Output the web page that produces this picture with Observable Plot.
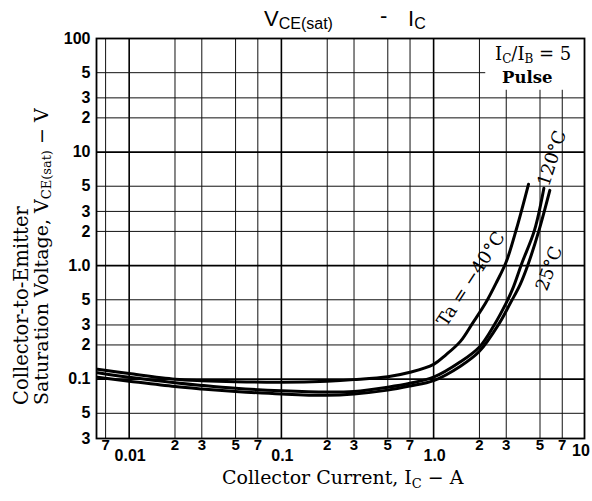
<!DOCTYPE html>
<html><head><meta charset="utf-8">
<script src="https://cdn.jsdelivr.net/npm/d3@7"></script>
<script src="https://cdn.jsdelivr.net/npm/@observablehq/plot@0.6"></script>
<style>body{margin:0;background:#fff} svg{display:block}</style>
</head><body><div id="chart"></div>
<script>
// ---- Data ----
const icM40 = [0.0062, 0.01, 0.02, 0.03, 0.05, 0.1, 0.2, 0.3, 0.5, 0.7, 1.0, 1.2, 1.5, 1.8, 2.2, 2.6, 3.0, 3.5, 4.2];
const vM40  = [0.122, 0.112, 0.100, 0.097, 0.095, 0.094, 0.096, 0.099, 0.105, 0.115, 0.135, 0.163, 0.215, 0.31, 0.47, 0.72, 1.08, 2.1, 5.2];

const ic120 = [0.0062, 0.01, 0.02, 0.03, 0.05, 0.1, 0.2, 0.3, 0.5, 0.7, 1.0, 1.5, 2.0, 2.5, 3.0, 3.3, 3.8, 4.6, 5.3];
const v120  = [0.114, 0.104, 0.093, 0.088, 0.083, 0.079, 0.077, 0.078, 0.085, 0.092, 0.104, 0.142, 0.192, 0.30, 0.47, 0.62, 1.05, 2.05, 4.8];

const ic25 = [0.0062, 0.01, 0.02, 0.03, 0.05, 0.1, 0.2, 0.3, 0.5, 0.7, 1.0, 1.5, 2.0, 2.7, 3.2, 3.7, 4.2, 4.9, 5.8];
const v25  = [0.104, 0.096, 0.086, 0.082, 0.078, 0.074, 0.072, 0.074, 0.080, 0.087, 0.097, 0.13, 0.176, 0.31, 0.47, 0.68, 1.05, 2.0, 4.6];

const seriesNames = ["−40°C", "120°C", "25°C"];

const yTicks = [0.03, 0.05, 0.1, 0.2, 0.3, 0.5, 1, 2, 3, 5, 10, 20, 30, 50, 100];
const yTickLabels = ["3", "5", "0.1", "2", "3", "5", "1.0", "2", "3", "5", "10", "2", "3", "5", "100"];
const yGridMinor = [0.05, 0.2, 0.3, 0.5, 2, 3, 5, 20, 30, 50];
const yGridMajor = [0.1, 1, 10];

const xMinorTicks = [0.007, 0.02, 0.03, 0.05, 0.07, 0.2, 0.3, 0.5, 0.7, 2, 3, 5, 7];
const xMinorLabels = ["7", "2", "3", "5", "7", "2", "3", "5", "7", "2", "3", "5", "7"];
const xMajorTicks = [0.01, 0.1, 1];
const xMajorLabels = ["0.01", "0.1", "1.0"];
const xEndTick = [10];
const xEndLabel = ["10"];

const curveLabels = [
  {text: "Ta = −40°C", x: 1.76, y: 0.76, angle: -57},
  {text: "120°C", x: 6.0, y: 8.8, angle: -72},
  {text: "25°C", x: 5.75, y: 0.94, angle: -70}
];
const noteBox = [{x1: 2.2, x2: 9.8, y1: 35, y2: 100}];

// ---- Build table ----
const curves = [
  [icM40, vM40], [ic120, v120], [ic25, v25]
].flatMap(([ic, v], k) => ic.map((c, i) => ({ic: c, v: v[i], temp: seriesNames[k]})));

const tickFont = "Liberation Sans, Arial, sans-serif";
const serif = "DejaVu Serif, serif";

const plot = Plot.plot({
  width: 592, height: 501,
  marginTop: 38, marginBottom: 63, marginLeft: 96, marginRight: 8,
  style: {background: "white", color: "black", overflow: "visible"},
  x: {type: "log", domain: [0.0061, 9.8], axis: null},
  y: {type: "log", domain: [0.03, 100], axis: null},
  marks: [
    Plot.ruleX(xMinorTicks, {stroke: "#111", strokeWidth: 1}),
    Plot.ruleX(xMajorTicks, {stroke: "#000", strokeWidth: 1.6}),
    Plot.ruleY(yGridMinor, {stroke: "#111", strokeWidth: 1}),
    Plot.ruleY(yGridMajor, {stroke: "#000", strokeWidth: 1.8}),
    Plot.rect(noteBox, {x1: "x1", x2: "x2", y1: "y1", y2: "y2", fill: "white"}),
    Plot.frame({stroke: "#000", strokeWidth: 1.8}),
    Plot.line(curves, {x: "ic", y: "v", z: "temp", stroke: "#000", strokeWidth: 3, curve: "catmull-rom"}),
    Plot.text(curveLabels, {x: "x", y: "y", text: "text", rotate: "angle", fontFamily: serif, fontSize: 18, fill: "#000"}),
    Plot.text(yTicks, {y: d => d, text: (d, i) => yTickLabels[i], frameAnchor: "left", textAnchor: "end", dx: -6, fontFamily: tickFont, fontWeight: "bold", fontSize: 16, fill: "#000"}),
    Plot.text(xMinorTicks, {x: d => d, text: (d, i) => xMinorLabels[i], frameAnchor: "bottom", dy: 11, fontFamily: tickFont, fontWeight: "bold", fontSize: 15, fill: "#000"}),
    Plot.text(xMajorTicks, {x: d => d, text: (d, i) => xMajorLabels[i], frameAnchor: "bottom", dy: 22, dx: 1, fontFamily: tickFont, fontWeight: "bold", fontSize: 16, fill: "#000"}),
    Plot.text(xEndTick, {x: d => d, text: (d, i) => xEndLabel[i], frameAnchor: "bottom", dy: 17, dx: 4, textAnchor: "end", fontFamily: tickFont, fontWeight: "bold", fontSize: 16, fill: "#000"})
  ]
});

document.getElementById("chart").appendChild(plot);
const svg = d3.select(plot);
const g = svg.append("g").attr("text-anchor", "start").attr("fill", "#000");

// Title
const t = g.append("text").attr("x", 264).attr("y", 26).attr("font-family", tickFont).attr("font-size", 22);
t.append("tspan").text("V");
t.append("tspan").attr("font-size", 16).attr("dy", 3).text("CE(sat)");
g.append("text").attr("x", 380).attr("y", 23).attr("font-family", tickFont).attr("font-size", 22).text("-");
const t3 = g.append("text").attr("x", 408).attr("y", 26).attr("font-family", tickFont).attr("font-size", 22);
t3.append("tspan").text("I");
t3.append("tspan").attr("font-size", 16).attr("dy", 3).text("C");

// Y axis title (two lines)
g.append("text").attr("transform", "translate(28,405) rotate(-90)")
  .attr("font-family", serif).attr("font-size", 19.5).text("Collector-to-Emitter");
const yl = g.append("text").attr("transform", "translate(48,405) rotate(-90)")
  .attr("font-family", serif).attr("font-size", 19);
yl.append("tspan").text("Saturation Voltage, V");
yl.append("tspan").attr("font-size", 13).attr("dy", 3).text("CE(sat)");
yl.append("tspan").attr("dy", -3).text(" − V");

// X axis title
const xl = g.append("text").attr("x", 222).attr("y", 484)
  .attr("font-family", serif).attr("font-size", 19);
xl.append("tspan").text("Collector Current, I");
xl.append("tspan").attr("font-size", 13).attr("dy", 4).text("C");
xl.append("tspan").attr("dy", -4).text(" − A");

// Conditions note
const n1 = g.append("text").attr("x", 495).attr("y", 60)
  .attr("font-family", serif).attr("font-size", 18);
n1.append("tspan").text("I");
n1.append("tspan").attr("font-size", 12).attr("dy", 3).text("C");
n1.append("tspan").attr("dy", -3).text("/I");
n1.append("tspan").attr("font-size", 12).attr("dy", 3).text("B");
n1.append("tspan").attr("dy", -3).text(" = 5");
g.append("text").attr("x", 502).attr("y", 83)
  .attr("font-family", serif).attr("font-size", 16.5).attr("font-weight", "bold").text("Pulse");
</script>
</body></html>
